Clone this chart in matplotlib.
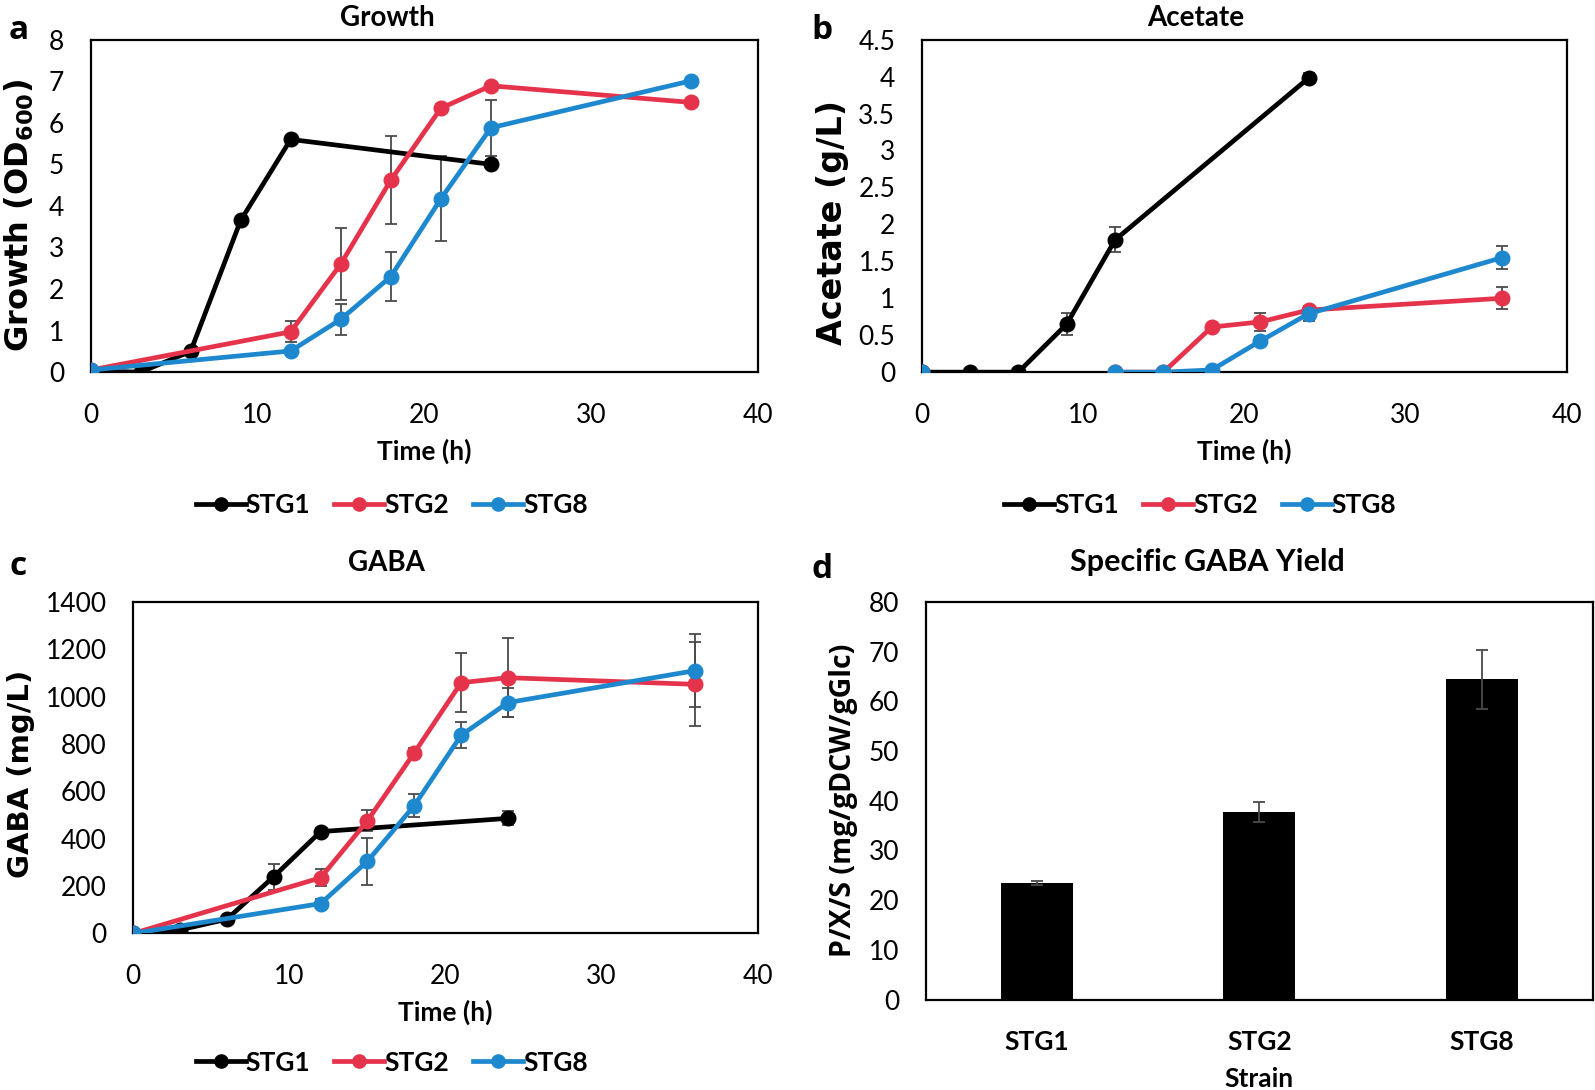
import numpy as np
import matplotlib
matplotlib.use("Agg")
import matplotlib.pyplot as plt
from matplotlib.lines import Line2D

nan = np.nan
plt.rcParams["mathtext.default"] = "bf"

# ---------------- data ----------------
series_names = ["STG1", "STG2", "STG8"]

# Growth (OD600)
t_stg1 = [0, 3, 6, 9, 12, 24]
t_other = [0, 12, 15, 18, 21, 24, 36]
growth_stg1 = [0.03, 0.0, 0.5, 3.65, 5.6, 5.0]
growth_stg1_err = [0, 0, 0.05, 0.05, 0.05, 0.1]
growth_stg2 = [0.05, 0.97, 2.6, 4.62, 6.35, 6.89, 6.49]
growth_stg2_err = [0, 0.25, 0.86, 1.05, 0.1, 0.05, 0.05]
growth_stg8 = [0.05, 0.51, 1.27, 2.3, 4.17, 5.88, 7.01]
growth_stg8_err = [0, 0.05, 0.38, 0.6, 1.02, 0.68, 0.05]

# Acetate (g/L)
t_full = [0, 3, 6, 9, 12, 15, 18, 21, 24, 36]
acetate_stg1 = [0, 0, 0, 0.65, 1.79, 3.98]
acetate_stg1_err = [0, 0, 0, 0.15, 0.17, 0.07]
acetate_stg2 = [0, nan, nan, nan, 0, 0, 0.61, 0.68, 0.84, 1.0]
acetate_stg2_err = [0, 0, 0, 0, 0, 0, 0.03, 0.12, 0.05, 0.15]
acetate_stg8 = [0, nan, nan, nan, 0, 0, 0.03, 0.42, 0.79, 1.55]
acetate_stg8_err = [0, 0, 0, 0, 0, 0, 0.02, 0.05, 0.1, 0.16]

# GABA (mg/L)
gaba_stg1 = [0, 15, 60, 240, 430, 486]
gaba_stg1_err = [0, 5, 10, 55, 15, 30]
gaba_stg2 = [0, 235, 476, 763, 1059, 1080, 1052]
gaba_stg2_err = [0, 35, 45, 20, 125, 168, 178]
gaba_stg8 = [0, 126, 305, 540, 837, 975, 1110]
gaba_stg8_err = [0, 20, 100, 48, 55, 62, 155]

# Specific GABA yield
strains = ["STG1", "STG2", "STG8"]
yield_vals = [23.4, 37.7, 64.4]
yield_err = [0.4, 2.0, 6.0]

# ---------------- style ----------------
colors = {"STG1": "#000000", "STG2": "#E5334B", "STG8": "#1E88CF"}
TICK_FONT = "Lato"
LW = 3.4
MS = 10.5
ERR_C = "#4a4a4a"

W, H = 1568.0, 1072.0
fig = plt.figure(figsize=(15.95, 10.90), dpi=100)


def rect(l, r, t, b):
    return [l / W, 1 - b / H, (r - l) / W, (b - t) / H]


def style_axes(ax):
    for s in ax.spines.values():
        s.set_color("black")
        s.set_linewidth(1.6)
    ax.tick_params(length=0, labelsize=19)
    ax.tick_params(axis="y", pad=19)
    ax.tick_params(axis="x", pad=22)
    for lab in ax.get_xticklabels() + ax.get_yticklabels():
        lab.set_fontfamily(TICK_FONT)


def draw_series(ax, t, y, e, name):
    c = colors[name]
    ax.errorbar(t, y, yerr=e, fmt="none", ecolor=ERR_C, elinewidth=1.3,
                capsize=4, capthick=1.3, zorder=2)
    ax.plot(t, y, color=c, lw=LW, marker="o", ms=MS, mec=c, mfc=c, zorder=3)


def add_legend(cx, cy):
    handles = [Line2D([0], [0], color=colors[n], lw=LW, marker="o", ms=MS - 1)
               for n in series_names]
    fig.legend(handles, series_names, loc="center", bbox_to_anchor=(cx / W, 1 - cy / H),
               ncol=3, frameon=False, handlelength=1.9, handletextpad=0.0,
               columnspacing=0.9, prop={"family": TICK_FONT, "size": 19, "weight": "bold"})


def ylab(ax, text, x, y, size, family="DejaVu Sans"):
    ax.set_ylabel(text, fontdict={"family": family, "size": size, "weight": "bold"})
    ax.yaxis.set_label_coords(x, y)


title_font = {"family": TICK_FONT, "size": 20, "weight": "bold"}
xlab_font = {"family": TICK_FONT, "size": 19, "weight": "bold"}

# ---- panel a ----
axa = fig.add_axes(rect(89, 745, 39, 366))
draw_series(axa, t_stg1, growth_stg1, growth_stg1_err, "STG1")
draw_series(axa, t_other, growth_stg2, growth_stg2_err, "STG2")
draw_series(axa, t_other, growth_stg8, growth_stg8_err, "STG8")
axa.set_xlim(0, 40)
axa.set_ylim(0, 8)
axa.set_xticks(range(0, 41, 10))
axa.set_yticks(range(0, 9))
style_axes(axa)
axa.set_title("Growth", fontdict=title_font, pad=10, x=0.445)
axa.set_xlabel("Time (h)", fontdict=xlab_font, labelpad=8)
ylab(axa, "Growth (OD$_{600}$)", -0.082, 0.47, 23)
add_legend(385, 497)

# ---- panel b ----
axb = fig.add_axes(rect(906, 1540, 39, 366))
draw_series(axb, t_stg1, acetate_stg1, acetate_stg1_err, "STG1")
draw_series(axb, t_full, acetate_stg2, acetate_stg2_err, "STG2")
draw_series(axb, t_full, acetate_stg8, acetate_stg8_err, "STG8")
axb.set_xlim(0, 40)
axb.set_ylim(0, 4.5)
axb.set_xticks(range(0, 41, 10))
yt = np.arange(0, 4.51, 0.5)
axb.set_yticks(yt)
axb.set_yticklabels([f"{v:g}" for v in yt])
style_axes(axb)
axb.set_title("Acetate", fontdict=title_font, pad=10, x=0.425)
axb.set_xlabel("Time (h)", fontdict=xlab_font, labelpad=8)
ylab(axb, "Acetate (g/L)", -0.113, 0.45, 24)
add_legend(1180, 497)

# ---- panel c ----
axc = fig.add_axes(rect(131, 745, 592, 918))
draw_series(axc, t_stg1, gaba_stg1, gaba_stg1_err, "STG1")
draw_series(axc, t_other, gaba_stg2, gaba_stg2_err, "STG2")
draw_series(axc, t_other, gaba_stg8, gaba_stg8_err, "STG8")
axc.set_xlim(0, 40)
axc.set_ylim(0, 1400)
axc.set_xticks(range(0, 41, 10))
axc.set_yticks(range(0, 1401, 200))
style_axes(axc)
axc.set_title("GABA", fontdict=title_font, pad=22, x=0.406)
axc.set_xlabel("Time (h)", fontdict=xlab_font, labelpad=8)
ylab(axc, "GABA (mg/L)", -0.157, 0.48, 21)
add_legend(385, 1045)

# ---- panel d ----
axd = fig.add_axes(rect(910, 1566, 592, 983))
xpos = np.arange(len(strains))
axd.bar(xpos, yield_vals, width=0.323, color="black", zorder=2)
axd.errorbar(xpos, yield_vals, yerr=yield_err, fmt="none", ecolor=ERR_C,
             elinewidth=1.3, capsize=4, capthick=1.3, zorder=3)
axd.set_xlim(-0.5, 2.5)
axd.set_ylim(0, 80)
axd.set_xticks(xpos)
axd.set_xticklabels(strains)
axd.set_yticks(range(0, 81, 10))
style_axes(axd)
for lab in axd.get_xticklabels():
    lab.set_fontweight("bold")
axd.set_title("Specific GABA Yield", fontdict={"family": TICK_FONT, "size": 22, "weight": "bold"},
              pad=22, x=0.422)
axd.set_xlabel("Strain", fontdict=xlab_font, labelpad=9)
ylab(axd, "P/X/S (mg/gDCW/gGlc)", -0.102, 0.5, 20.5, family="Open Sans")

# panel letters
for letter, (x, y) in {"a": (18, 30), "b": (808, 30), "c": (18, 557), "d": (808, 560)}.items():
    fig.text(x / W, 1 - y / H, letter, ha="center", va="center",
             fontfamily="Open Sans", fontsize=24, fontweight="bold")

fig.savefig("out.png", dpi=100)
